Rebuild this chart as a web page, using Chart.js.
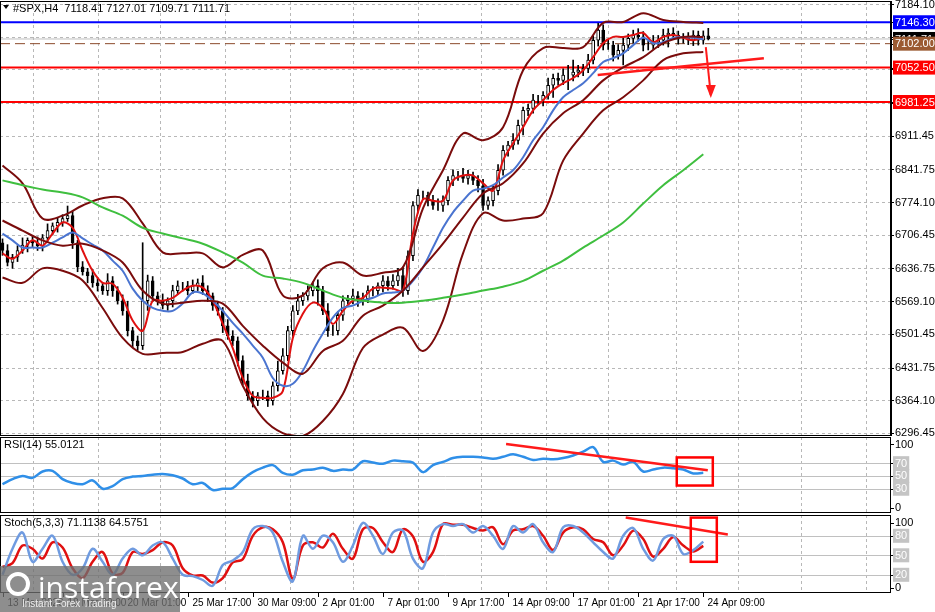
<!DOCTYPE html>
<html><head><meta charset="utf-8">
<script src="https://cdn.jsdelivr.net/npm/chart.js@4"></script>
<style>
html,body{margin:0;padding:0;background:#fff;width:935px;height:612px;overflow:hidden;font-family:"Liberation Sans",Arial,sans-serif}
.c{position:absolute;left:0;width:935px}
canvas{display:block}
#wm{position:absolute;left:0;top:566px;width:180px;height:46px;background:rgba(110,110,110,0.78);color:#fff;overflow:hidden}
#wm .a{position:absolute;left:38px;top:0px;font-size:30px;font-family:"Open Sans",sans-serif;letter-spacing:0px}
#wm .b{position:absolute;left:22px;top:32px;font-size:10px;color:#eee}
#wm .g{position:absolute;left:6px;top:6px;width:24px;height:24px;border:4px solid #fff;border-radius:50%;box-sizing:border-box}
</style></head><body>
<div class="c" style="top:0;height:436px"><canvas id="p" width="935" height="436" style="width:935px;height:436px"></canvas></div>
<div class="c" style="top:436px;height:77px"><canvas id="r" width="935" height="77" style="width:935px;height:77px"></canvas></div>
<div class="c" style="top:514px;height:98px"><canvas id="s" width="935" height="98" style="width:935px;height:98px"></canvas></div>
<div id="wm"><div class="g"></div><div class="a">instaforex</div><div class="b">Instant Forex Trading</div></div>
<script>
// ---------- DATA ----------
const SLOTS = 178;
const closes = [
6674,6649,6660,6674,6685,6695,6690,6684,6700,6715,
6725,6732,6740,6746,6690,6640,6630,6622,6607,6601,
6591,6611,6591,6570,6549,6508,6487,6477,6570,6611,
6580,6570,6560,6570,6591,6601,6601,6591,6601,6607,
6591,6580,6560,6549,6518,6497,6487,6446,6404,6373,
6363,6373,6373,6363,6394,6425,6456,6508,6549,6570,
6580,6591,6601,6591,6549,6508,6508,6540,6570,6574,
6580,6570,6574,6591,6591,6601,6611,6601,6611,6622,
6591,6663,6767,6788,6788,6777,6767,6767,6777,6819,
6829,6829,6823,6829,6819,6808,6767,6777,6798,6840,
6881,6892,6902,6933,6964,6968,6985,6985,6995,7016,
7030,7026,7037,7037,7043,7047,7051,7068,7109,7130,
7099,7099,7078,7088,7099,7113,7120,7116,7099,7099,
7105,7109,7120,7124,7120,7113,7113,7109,7120,7109,
7118.41,7111.71];
const firstOpen = 6690;
const upWick = [
8,12,6,10,15,5,9,12,7,14, 6,10,8,20,9,5,11,7,13,10, 6,15,9,8,12,20,7,10,120,12,
9,8,14,6,11,10,7,9,12,8, 15,10,6,9,7,13,11,8,10,14, 9,7,12,10,8,20,15,9,11,13,
7,10,8,12,9,15,11,8,10,7, 14,9,12,10,8,6,11,9,13,15, 18,10,8,12,9,7,11,14,10,8,
12,9,15,11,7,10,13,8,9,12, 10,8,14,11,7,9,12,10,8,15, 9,11,13,20,25,10,8,12,9,14,
11,10,8,12,15,9,10,13,11,8, 14,10,12,9,11,8,10,12,9,8, 10,15.3];
const downWick = [
10,7,12,9,6,14,8,10,11,7, 9,13,8,6,12,10,7,15,9,11, 8,10,12,7,9,11,14,10,8,20,
12,9,7,10,13,8,11,9,6,10, 8,12,10,9,14,7,10,11,8,9, 13,10,8,12,9,11,7,10,12,8,
10,9,11,30,8,12,10,9,11,7, 10,12,9,8,11,10,13,9,7,10, 12,8,10,14,9,11,8,10,12,9,
11,10,8,12,9,13,10,8,11,9, 10,12,9,8,20,11,10,9,12,8, 25,10,9,30,12,10,11,9,8,12,
10,9,12,8,30,11,10,9,12,10, 9,11,10,25,8,12,10,9,11,10, 8,2];
// lines sampled every 2 bars
const fastMA = [
6668,6657,6674,6695,6684,6709,6732,6721,6674,6632,
6607,6605,6576,6529,6508,6570,6570,6576,6591,6601,
6597,6570,6522,6472,6410,6373,6369,6369,6383,6493,
6543,6566,6555,6522,6549,6570,6576,6595,6597,6595,
6591,6709,6780,6777,6777,6819,6829,6829,6813,6798,
6860,6896,6929,6964,6985,7006,7020,7031,7047,7074,
7103,7116,7116,7120,7124,7105,7116,7120,7114,7109,7114];
const slowMA = [
6709,6695,6680,6680,6680,6690,6701,6711,6699,6686,
6674,6653,6632,6595,6570,6555,6549,6549,6564,6587,
6585,6570,6549,6524,6502,6477,6452,6410,6394,6398,
6425,6466,6502,6535,6555,6560,6570,6576,6585,6587,
6591,6611,6639,6680,6721,6753,6777,6798,6802,6809,
6825,6840,6867,6902,6929,6964,6991,7006,7020,7041,
7064,7072,7082,7099,7114,7103,7105,7114,7116,7114,7111];
// lines sampled every 4 bars
const bbUpper = [6850,6813,6740,6746,6767,6782,6782,6730,6670,6668,6668,6639,6665,6674,6581,6581,6637,6649,6622,6628,6639,6761,6840,6916,6902,6929,7047,7093,7093,7095,7145,7147,7165,7151,7147,7145];
const bbMid = [6736,6715,6695,6684,6688,6674,6649,6591,6564,6566,6570,6564,6518,6477,6442,6419,6466,6487,6539,6560,6591,6639,6688,6742,6792,6813,6854,6916,6958,6985,7026,7053,7074,7103,7116,7116];
const bbLower = [6618,6607,6637,6632,6612,6555,6493,6460,6462,6464,6481,6487,6394,6327,6296,6290,6321,6377,6472,6500,6514,6466,6529,6668,6751,6736,6740,6751,6860,6916,6964,6991,7026,7068,7082,7085];
const ma200 = [6819,6809,6800,6794,6784,6763,6746,6721,6709,6699,6688,6670,6649,6622,6616,6607,6591,6576,6570,6566,6566,6570,6576,6583,6591,6599,6611,6632,6653,6680,6705,6732,6771,6809,6840,6873];
const rsi = [
37,45,50,47,57,58,45,39,37,43, 30,34,45,49,50,52,53,51,46,37,
39,28,30,31,45,56,63,67,55,52, 59,60,63,58,60,60,73,71,69,74,
73,71,56,67,72,78,80,80,79,77, 80,84,80,75,77,76,78,82,88,95,
72,74,68,72,57,60,63,62,60,54,55];
const stochD = [
32,38,65,60,45,70,62,30,15,40, 55,22,23,55,52,58,70,65,30,19,
19,8,15,39,44,80,93,90,70,14, 65,70,62,83,60,45,90,92,70,55,
90,79,40,55,98,97,97,92,88,93, 67,88,90,95,80,58,85,93,90,75,
70,50,65,88,75,48,60,78,65,56,64.6];
const stochK = [
20,60,85,40,60,80,40,20,30,60, 40,20,45,60,50,65,70,45,20,18,
12,3,35,42,55,90,95,85,40,10, 80,60,80,70,40,65,100,80,52,85,
88,45,30,85,98,95,98,85,95,80, 60,95,85,98,70,55,93,95,85,70,
55,45,80,92,60,42,75,80,52,58,71.1];
const priceTicks = [7184.10,7116.45,7048.80,6979.15,6911.45,6841.75,6774.10,6706.45,6636.75,6569.10,6501.45,6431.75,6364.10,6296.45];
const xTickIdx = [0,12,24,37,50,63,76,89,101,114,127,140];
const xTickText = ['13 Mar 2026','18 Mar 09:00','20 Mar 01:00','25 Mar 17:00','30 Mar 09:00','2 Apr 01:00','7 Apr 01:00','9 Apr 17:00','14 Apr 09:00','17 Apr 01:00','21 Apr 17:00','24 Apr 09:00'];
const gridIdx = [6,19,31.5,44.5,57.5,70,83,95.5,108.5,121,134.5,147,159.5,172.5];
const levels = [
 {v:7146.30,color:'#0000ff',w:2,dash:[],box:'#0000ff'},
 {v:7111.71,color:'#c0c0c0',w:1,dash:[],box:'#000000'},
 {v:7102.00,color:'#8b4a2b',w:1,dash:[10,5],box:'#9b5a32'},
 {v:7052.50,color:'#ff0000',w:2,dash:[],box:'#ff0000'},
 {v:6981.25,color:'#ff0000',w:2,dash:[],box:'#ff0000'}];
const priceTrend = [[118.9,7037],[152.1,7072]];
const priceArrow = [[140.5,7095],[141.5,6996]];
const rsiTrend = [[100.6,100],[140.9,59]];
const rsiBox = [134.7,79,141.9,35];
const stTrend = [[124.5,108],[144.9,82]];
const stBox = [137.5,108,142.7,40];

// ---------- BUILD ----------
const labels = Array.from({length:SLOTS},(_,i)=>'');
const opens = closes.map((c,i)=> i===0 ? firstOpen : closes[i-1]);
const pad = a => { const o=new Array(SLOTS).fill(null); a.forEach((v,i)=>o[i]=v); return o; };
const spread = (a,step) => { const o=new Array(SLOTS).fill(null); a.forEach((v,i)=>{ const k=Math.min(i*step, closes.length-1); o[k]=v;}); return o; };
const bodies = pad(closes.map((c,i)=>[opens[i],c]));
const wicks = pad(closes.map((c,i)=>[Math.min(opens[i],c)-downWick[i], Math.max(opens[i],c)+upWick[i]]));
const bodyColors = closes.map((c,i)=> c>=opens[i] ? '#ffffff' : '#000000');
const FONT = '11px "Liberation Sans", Arial, sans-serif';
Chart.defaults.animation = false;
Chart.defaults.font.family = '"Liberation Sans", Arial, sans-serif';

function xPix(ch,i){ const a=ch.chartArea; return a.left + (i+0.5)*(a.right-a.left)/SLOTS; }
function baseOpts(yMin,yMax,padB){
  return {responsive:false,maintainAspectRatio:false,devicePixelRatio:1,events:[],
    layout:{padding:{left:0,right:44,top:1,bottom:padB}},
    plugins:{legend:{display:false},tooltip:{enabled:false}},
    scales:{x:{type:'category',display:false,offset:true,grid:{display:false}},
            y:{display:false,min:yMin,max:yMax}}};
}
function drawFrameGrid(ch,ctx,hVals){
  const a=ch.chartArea, y=ch.scales.y;
  ctx.save(); ctx.strokeStyle='#b8b8b8'; ctx.lineWidth=1; ctx.setLineDash([3,3]);
  gridIdx.forEach(i=>{const x=Math.round(xPix(ch,i))+0.5; ctx.beginPath(); ctx.moveTo(x,a.top); ctx.lineTo(x,a.bottom); ctx.stroke();});
  (hVals||[]).forEach(v=>{const yy=Math.round(y.getPixelForValue(v))+0.5; ctx.beginPath(); ctx.moveTo(a.left,yy); ctx.lineTo(a.right,yy); ctx.stroke();});
  ctx.restore();
}
function frame(ch,ctx){
  const a=ch.chartArea; ctx.save(); ctx.strokeStyle='#000'; ctx.lineWidth=1;
  ctx.strokeRect(a.left+0.5,a.top+0.5,a.right-a.left-1,a.bottom-a.top-1); ctx.restore();
}
function seg(ch,ctx,p1,p2,color,w){
  const y=ch.scales.y; ctx.save(); ctx.strokeStyle=color; ctx.lineWidth=w; ctx.beginPath();
  ctx.moveTo(xPix(ch,p1[0]),y.getPixelForValue(p1[1])); ctx.lineTo(xPix(ch,p2[0]),y.getPixelForValue(p2[1])); ctx.stroke(); ctx.restore();
}
function rectBox(ch,ctx,b){
  const y=ch.scales.y; const x1=xPix(ch,b[0]),x2=xPix(ch,b[2]),y1=y.getPixelForValue(b[1]),y2=y.getPixelForValue(b[3]);
  ctx.save(); ctx.strokeStyle='#ff0000'; ctx.lineWidth=2.5; ctx.strokeRect(x1,y1,x2-x1,y2-y1); ctx.restore();
}
function axisLabel(ch,ctx,v,txt,bg,fg){
  const a=ch.chartArea, yy=ch.scales.y.getPixelForValue(v);
  ctx.save(); ctx.font=FONT; ctx.textBaseline='middle';
  ctx.strokeStyle='#000'; ctx.beginPath(); ctx.moveTo(a.right,Math.round(yy)+0.5); ctx.lineTo(a.right+3,Math.round(yy)+0.5); ctx.stroke();
  if(bg){ const w=ctx.measureText(txt).width+4; ctx.fillStyle=bg; ctx.fillRect(a.right+2,yy-7,w,14); }
  ctx.fillStyle=fg||'#000'; ctx.fillText(txt,a.right+4,yy+0.5); ctx.restore();
}
function levelLines(ch,ctx,vals){
  const a=ch.chartArea,y=ch.scales.y; ctx.save(); ctx.strokeStyle='#c0c0c0'; ctx.lineWidth=1;
  vals.forEach(v=>{const yy=Math.round(y.getPixelForValue(v))+0.5; ctx.beginPath(); ctx.moveTo(a.left,yy); ctx.lineTo(a.right,yy); ctx.stroke();}); ctx.restore();
}
function title(ctx,x,y,t){ ctx.save(); ctx.font=FONT; ctx.fillStyle='#000'; ctx.textBaseline='top'; ctx.fillText(t,x,y); ctx.restore(); }

// ---------- PRICE ----------
const lineDs = (data,color,w)=>({type:'line',data,borderColor:color,borderWidth:w,pointRadius:0,spanGaps:true,tension:0.35,order:1,fill:false});
const pOpts = baseOpts(6290,7190.3,0);
new Chart(document.getElementById('p'),{
  data:{labels,datasets:[
    {type:'bar',data:wicks,backgroundColor:'#000',barThickness:1,grouped:false,order:3},
    {type:'bar',data:bodies,backgroundColor:bodyColors,borderColor:'#000',borderWidth:1,borderSkipped:false,barThickness:3,grouped:false,order:2},
    lineDs(spread(ma200,4),'#3fbf3f',2),
    lineDs(spread(bbUpper,4),'#7a0c0c',2),
    lineDs(spread(bbLower,4),'#7a0c0c',2),
    lineDs(spread(bbMid,4),'#7a0c0c',2),
    lineDs(spread(slowMA,2),'#4a74d0',2),
    lineDs(spread(fastMA,2),'#e01010',2),
  ]},
  options:pOpts,
  plugins:[{id:'pp',
    beforeDatasetsDraw(ch){ const ctx=ch.ctx; drawFrameGrid(ch,ctx,priceTicks);
      const a=ch.chartArea,y=ch.scales.y; ctx.save();
      levels.forEach(l=>{const yy=y.getPixelForValue(l.v); ctx.strokeStyle=l.color; ctx.lineWidth=l.w; ctx.setLineDash(l.dash); ctx.beginPath(); ctx.moveTo(a.left,yy); ctx.lineTo(a.right,yy); ctx.stroke();});
      ctx.restore(); },
    afterDraw(ch){ const ctx=ch.ctx, a=ch.chartArea;
      seg(ch,ctx,priceTrend[0],priceTrend[1],'#ff1a1a',2.5);
      seg(ch,ctx,priceArrow[0],priceArrow[1],'#ff1a1a',2);
      const y=ch.scales.y, ax=xPix(ch,priceArrow[1][0]), ay=y.getPixelForValue(priceArrow[1][1]);
      ctx.save(); ctx.fillStyle='#ff1a1a'; ctx.beginPath(); ctx.moveTo(ax,ay+3); ctx.lineTo(ax-5,ay-10); ctx.lineTo(ax+5,ay-10); ctx.closePath(); ctx.fill(); ctx.restore();
      frame(ch,ctx);
      ctx.save(); ctx.fillStyle='#fff'; ctx.fillRect(a.right+1,0,50,a.bottom); ctx.restore();
      ctx.save(); ctx.strokeStyle='#000'; ctx.beginPath(); ctx.moveTo(a.right+0.5,a.top); ctx.lineTo(a.right+0.5,a.bottom); ctx.stroke(); ctx.restore();
      priceTicks.forEach(v=>axisLabel(ch,ctx,v,v.toFixed(2)));
      levels.forEach(l=>axisLabel(ch,ctx,l.v,l.v.toFixed(2),l.box,'#fff'));
      title(ctx,13,3,'#SPX,H4  7118.41 7127.01 7109.71 7111.71');
      ctx.save(); ctx.fillStyle='#000'; ctx.beginPath(); ctx.moveTo(3,5); ctx.lineTo(9,5); ctx.lineTo(6,9); ctx.closePath(); ctx.fill(); ctx.restore();
    }}]
});

// ---------- RSI ----------
const rOpts = baseOpts(-8,111,0);
new Chart(document.getElementById('r'),{
  data:{labels,datasets:[lineDs(spread(rsi,2),'#2f8fe8',2.5)]},
  options:rOpts,
  plugins:[{id:'rp',
    beforeDatasetsDraw(ch){ drawFrameGrid(ch,ch.ctx,[]); levelLines(ch,ch.ctx,[70,50,30]); },
    afterDraw(ch){ const ctx=ch.ctx; seg(ch,ctx,rsiTrend[0],rsiTrend[1],'#ff1a1a',2.5); rectBox(ch,ctx,rsiBox); frame(ch,ctx);
      axisLabel(ch,ctx,100,'100'); axisLabel(ch,ctx,0,'0');
      [70,50,30].forEach(v=>axisLabel(ch,ctx,v,String(v),'#c4c4c4','#fff'));
      title(ctx,4,3,'RSI(14) 55.0121'); }}]
});

// ---------- STOCH ----------
const sOpts = baseOpts(-8,112,19);
new Chart(document.getElementById('s'),{
  data:{labels,datasets:[lineDs(spread(stochK,2),'#6f9be0',2.5),lineDs(spread(stochD,2),'#e01010',2.5)]},
  options:sOpts,
  plugins:[{id:'sp',
    beforeDatasetsDraw(ch){ drawFrameGrid(ch,ch.ctx,[]); levelLines(ch,ch.ctx,[80,50,20]); },
    afterDraw(ch){ const ctx=ch.ctx,a=ch.chartArea; seg(ch,ctx,stTrend[0],stTrend[1],'#ff1a1a',2.5); rectBox(ch,ctx,stBox); frame(ch,ctx);
      axisLabel(ch,ctx,100,'100'); axisLabel(ch,ctx,0,'0');
      [80,50,20].forEach(v=>axisLabel(ch,ctx,v,String(v),'#c4c4c4','#fff'));
      title(ctx,4,3,'Stoch(5,3,3) 71.1138 64.5751');
      ctx.save(); ctx.font='10px "Liberation Sans", Arial, sans-serif'; ctx.fillStyle='#000'; ctx.textBaseline='top'; ctx.strokeStyle='#000';
      xTickIdx.forEach((i,k)=>{ const x=Math.round(xPix(ch,i))+0.5; ctx.beginPath(); ctx.moveTo(x,a.bottom); ctx.lineTo(x,a.bottom+4); ctx.stroke(); ctx.fillText(xTickText[k],x+4,a.bottom+5); });
      ctx.restore(); }}]
});
</script></body></html>
